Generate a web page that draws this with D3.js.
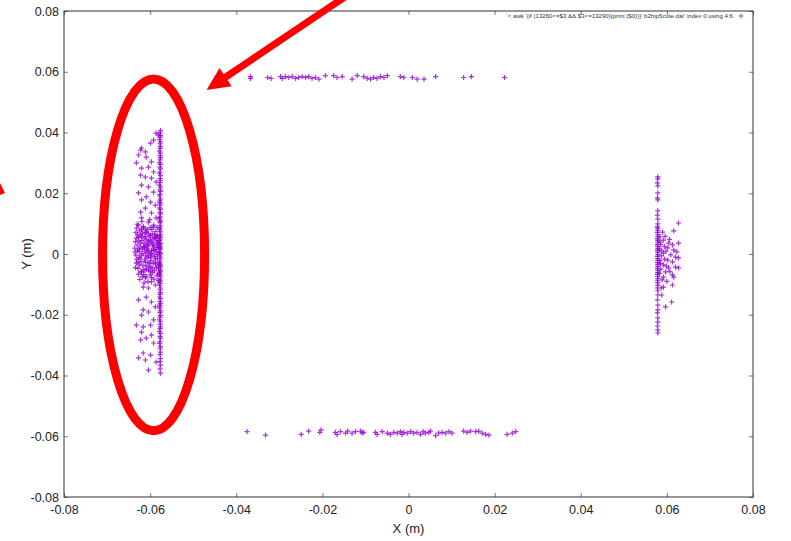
<!DOCTYPE html>
<html>
<head>
<meta charset="utf-8">
<script src="https://cdn.jsdelivr.net/npm/d3@7"></script>
<style>
  html, body { margin: 0; padding: 0; background: #fff; }
  svg { display: block; }
  text { font-family: "Liberation Sans", Arial, Helvetica, sans-serif; }
</style>
</head>
<body>
<svg id="chart" width="791" height="541"></svg>
<script>
// Axis ticks
const xTicks = [-0.08, -0.06, -0.04, -0.02, 0, 0.02, 0.04, 0.06, 0.08];
const xTickLabels = ["-0.08", "-0.06", "-0.04", "-0.02", "0", "0.02", "0.04", "0.06", "0.08"];
const yTicks = [-0.08, -0.06, -0.04, -0.02, 0, 0.02, 0.04, 0.06, 0.08];
const yTickLabels = ["-0.08", "-0.06", "-0.04", "-0.02", "0", "0.02", "0.04", "0.06", "0.08"];

const xTitle = "X (m)";
const yTitle = "Y (m)";
const seriesTitle = "'< awk '{if (13260<=$3 && $3<=13290){print ($0)}}' b2hip5cute.dat' index 0 using 4:6";

// Hits along the left plate (x ≈ -0.0577)
const leftLine = [
  [-0.0576, 0.0406], [-0.0577, 0.0399], [-0.0576, 0.0390], [-0.0577, 0.0385], [-0.0578, 0.0377],
  [-0.0576, 0.0369], [-0.0577, 0.0363], [-0.0576, 0.0354], [-0.0577, 0.0348], [-0.0578, 0.0339],
  [-0.0576, 0.0332], [-0.0577, 0.0324], [-0.0576, 0.0317], [-0.0577, 0.0310], [-0.0578, 0.0301],
  [-0.0576, 0.0295], [-0.0577, 0.0286], [-0.0576, 0.0280], [-0.0577, 0.0270], [-0.0578, 0.0265],
  [-0.0576, 0.0258], [-0.0577, 0.0248], [-0.0576, 0.0242], [-0.0577, 0.0235], [-0.0578, 0.0227],
  [-0.0576, 0.0220], [-0.0577, 0.0211], [-0.0576, 0.0206], [-0.0577, 0.0196], [-0.0578, 0.0191],
  [-0.0576, 0.0181], [-0.0577, 0.0177], [-0.0576, 0.0167], [-0.0577, 0.0161], [-0.0578, 0.0152],
  [-0.0576, 0.0147], [-0.0577, 0.0137], [-0.0576, 0.0132], [-0.0577, 0.0122], [-0.0578, 0.0118],
  [-0.0576, 0.0108], [-0.0577, 0.0103], [-0.0576, 0.0093], [-0.0577, 0.0088], [-0.0578, 0.0079],
  [-0.0576, 0.0073], [-0.0577, 0.0064], [-0.0576, 0.0059], [-0.0577, 0.0049], [-0.0578, 0.0044],
  [-0.0576, 0.0035], [-0.0577, 0.0029], [-0.0576, 0.0020], [-0.0577, 0.0015], [-0.0578, 0.0006],
  [-0.0576, 0.0001], [-0.0577, -0.0009], [-0.0576, -0.0014], [-0.0577, -0.0023], [-0.0578, -0.0029],
  [-0.0576, -0.0038], [-0.0577, -0.0043], [-0.0576, -0.0053], [-0.0577, -0.0058], [-0.0578, -0.0067],
  [-0.0576, -0.0073], [-0.0577, -0.0082], [-0.0576, -0.0088], [-0.0577, -0.0097], [-0.0578, -0.0103],
  [-0.0576, -0.0112], [-0.0577, -0.0118], [-0.0576, -0.0127], [-0.0577, -0.0133], [-0.0578, -0.0142],
  [-0.0576, -0.0148], [-0.0577, -0.0157], [-0.0576, -0.0163], [-0.0577, -0.0172], [-0.0578, -0.0178],
  [-0.0576, -0.0187], [-0.0577, -0.0193], [-0.0576, -0.0202], [-0.0577, -0.0208], [-0.0578, -0.0217],
  [-0.0576, -0.0223], [-0.0577, -0.0232], [-0.0576, -0.0240], [-0.0577, -0.0246], [-0.0578, -0.0255],
  [-0.0576, -0.0261], [-0.0577, -0.0271], [-0.0576, -0.0277], [-0.0577, -0.0288], [-0.0578, -0.0294],
  [-0.0576, -0.0305], [-0.0577, -0.0312], [-0.0576, -0.0323], [-0.0577, -0.0331], [-0.0576, -0.0344],
  [-0.0577, -0.0354], [-0.0576, -0.0366], [-0.0577, -0.0378], [-0.0576, -0.0392],
  [-0.0578, 0.0083], [-0.0578, 0.0054], [-0.0578, 0.0024], [-0.0578, -0.0004], [-0.0578, -0.0034],
  [-0.0578, -0.0062], [-0.0578, 0.0112], [-0.0578, -0.0092], [-0.0578, 0.0171], [-0.0578, -0.0168]
];

// Scattered hits beside the left plate
const leftSpread = [
  [-0.0586, 0.0398], [-0.0581, 0.0392], [-0.0592, 0.0375], [-0.0599, 0.0365], [-0.0620, 0.0349],
  [-0.0622, 0.0342], [-0.0611, 0.0336], [-0.0627, 0.0326], [-0.0609, 0.0319], [-0.0632, 0.0300],
  [-0.0597, 0.0303], [-0.0620, 0.0283], [-0.0604, 0.0286], [-0.0592, 0.0270], [-0.0622, 0.0260],
  [-0.0611, 0.0253], [-0.0597, 0.0250], [-0.0586, 0.0237], [-0.0620, 0.0227], [-0.0604, 0.0221],
  [-0.0627, 0.0201], [-0.0592, 0.0204], [-0.0609, 0.0188], [-0.0620, 0.0178], [-0.0599, 0.0171],
  [-0.0588, 0.0161], [-0.0611, 0.0151], [-0.0622, 0.0138], [-0.0597, 0.0135], [-0.0620, 0.0119],
  [-0.0586, 0.0119], [-0.0604, 0.0105], [-0.0627, 0.0095], [-0.0616, 0.0086], [-0.0592, 0.0089],
  [-0.0609, 0.0072], [-0.0622, 0.0063], [-0.0599, 0.0056], [-0.0588, 0.0053],
  [-0.0620, -0.0059], [-0.0604, -0.0053], [-0.0611, -0.0079], [-0.0597, -0.0092], [-0.0616, -0.0109],
  [-0.0604, -0.0112], [-0.0627, -0.0151], [-0.0609, -0.0142], [-0.0597, -0.0158], [-0.0616, -0.0184],
  [-0.0604, -0.0191], [-0.0620, -0.0201], [-0.0588, -0.0174], [-0.0632, -0.0234], [-0.0616, -0.0240],
  [-0.0599, -0.0234], [-0.0592, -0.0217], [-0.0620, -0.0257], [-0.0597, -0.0267], [-0.0622, -0.0283],
  [-0.0609, -0.0277], [-0.0592, -0.0293], [-0.0616, -0.0326], [-0.0627, -0.0342], [-0.0599, -0.0333],
  [-0.0611, -0.0349], [-0.0586, -0.0356], [-0.0604, -0.0382]
];

// Dense core of the left cluster around y = 0
const leftCore = [
  [-0.0634, 0.0041], [-0.0629, 0.0012], [-0.0631, -0.0018], [-0.0627, 0.0055], [-0.0625, -0.0036],
  [-0.0622, 0.0023], [-0.0620, -0.0004], [-0.0618, 0.0068], [-0.0616, -0.0051], [-0.0614, 0.0035],
  [-0.0612, 0.0009], [-0.0611, -0.0027], [-0.0609, 0.0049], [-0.0607, -0.0013], [-0.0605, 0.0027],
  [-0.0603, -0.0042], [-0.0601, 0.0061], [-0.0600, 0.0003], [-0.0598, -0.0022], [-0.0596, 0.0038],
  [-0.0594, -0.0061], [-0.0592, 0.0015], [-0.0590, -0.0008], [-0.0589, 0.0052], [-0.0587, -0.0033],
  [-0.0585, 0.0021], [-0.0583, -0.0015], [-0.0582, 0.0044], [-0.0580, -0.0048], [-0.0579, 0.0006],
  [-0.0633, -0.0004], [-0.0630, 0.0029], [-0.0628, -0.0047], [-0.0626, 0.0017], [-0.0624, 0.0076],
  [-0.0621, -0.0025], [-0.0619, 0.0044], [-0.0617, 0.0001], [-0.0615, -0.0068], [-0.0613, 0.0021],
  [-0.0610, -0.0039], [-0.0608, 0.0013], [-0.0606, 0.0079], [-0.0604, -0.0007], [-0.0602, 0.0033],
  [-0.0599, -0.0057], [-0.0597, 0.0011], [-0.0595, 0.0066], [-0.0593, -0.0031], [-0.0591, 0.0029],
  [-0.0588, -0.0016], [-0.0586, 0.0057], [-0.0584, -0.0071], [-0.0581, 0.0024], [-0.0579, -0.0029],
  [-0.0636, 0.0019], [-0.0632, -0.0030], [-0.0629, 0.0064], [-0.0626, -0.0011], [-0.0623, 0.0036],
  [-0.0621, -0.0059], [-0.0618, 0.0016], [-0.0616, 0.0090], [-0.0613, -0.0019], [-0.0611, 0.0058],
  [-0.0609, -0.0074], [-0.0607, 0.0005], [-0.0605, -0.0028], [-0.0603, 0.0046], [-0.0600, 0.0087],
  [-0.0598, -0.0043], [-0.0596, 0.0002], [-0.0594, 0.0031], [-0.0591, -0.0083], [-0.0589, 0.0012],
  [-0.0587, 0.0074], [-0.0584, -0.0002], [-0.0582, 0.0034], [-0.0580, -0.0064], [-0.0578, 0.0016],
  [-0.0630, 0.0098], [-0.0624, -0.0084], [-0.0619, 0.0107], [-0.0614, -0.0095], [-0.0610, 0.0082],
  [-0.0605, -0.0091], [-0.0601, 0.0113], [-0.0597, -0.0078], [-0.0592, 0.0095], [-0.0588, -0.0102],
  [-0.0584, 0.0088], [-0.0581, -0.0087], [-0.0627, -0.0066], [-0.0620, 0.0081], [-0.0612, -0.0056],
  [-0.0606, 0.0040], [-0.0599, -0.0012], [-0.0593, 0.0049], [-0.0586, -0.0044], [-0.0633, 0.0071],
  [-0.0635, 0.0006], [-0.0632, 0.0052], [-0.0628, -0.0026], [-0.0625, 0.0008], [-0.0623, -0.0014],
  [-0.0620, 0.0057], [-0.0617, -0.0037], [-0.0615, 0.0024], [-0.0612, 0.0071], [-0.0610, -0.0006],
  [-0.0608, -0.0049], [-0.0606, 0.0019], [-0.0603, 0.0010], [-0.0601, -0.0032], [-0.0599, 0.0043],
  [-0.0597, -0.0003], [-0.0595, -0.0049], [-0.0593, 0.0023], [-0.0590, 0.0063], [-0.0588, -0.0027],
  [-0.0586, 0.0007], [-0.0583, 0.0061], [-0.0581, -0.0039], [-0.0579, 0.0036], [-0.0634, -0.0045],
  [-0.0631, 0.0085], [-0.0626, 0.0043], [-0.0618, -0.0075], [-0.0614, 0.0052], [-0.0609, 0.0030],
  [-0.0604, 0.0066], [-0.0600, -0.0068], [-0.0596, 0.0081], [-0.0590, -0.0055], [-0.0585, 0.0039]
];

// Hits along the right plate (x ≈ 0.0579)
const rightLine = [
  [0.0579, 0.0254], [0.0579, 0.0247], [0.0578, 0.0234], [0.0579, 0.0224], [0.0579, 0.0201],
  [0.0578, 0.0185], [0.0579, 0.0178], [0.0579, 0.0142], [0.0578, 0.0128], [0.0579, 0.0115],
  [0.0579, 0.0099], [0.0578, 0.0089], [0.0579, 0.0085], [0.0579, 0.0078], [0.0578, 0.0071],
  [0.0579, 0.0064], [0.0579, 0.0057], [0.0578, 0.0050], [0.0579, 0.0044], [0.0579, 0.0037],
  [0.0578, 0.0031], [0.0579, 0.0024], [0.0579, 0.0018], [0.0578, 0.0011], [0.0579, 0.0005],
  [0.0579, -0.0002], [0.0578, -0.0008], [0.0579, -0.0015], [0.0579, -0.0021], [0.0578, -0.0028],
  [0.0579, -0.0034], [0.0579, -0.0041], [0.0578, -0.0047], [0.0579, -0.0054], [0.0579, -0.0061],
  [0.0578, -0.0067], [0.0579, -0.0074], [0.0579, -0.0081], [0.0578, -0.0088], [0.0579, -0.0095],
  [0.0579, -0.0103], [0.0578, -0.0112], [0.0579, -0.0121], [0.0579, -0.0135], [0.0578, -0.0151],
  [0.0579, -0.0168], [0.0579, -0.0184], [0.0578, -0.0194], [0.0579, -0.0210], [0.0579, -0.0224],
  [0.0578, -0.0237], [0.0579, -0.0250], [0.0579, -0.0260]
];

// Scattered hits beside the right plate
const rightSpread = [
  [0.0627, 0.0102], [0.0616, 0.0076], [0.0590, 0.0072], [0.0592, 0.0046], [0.0604, 0.0036],
  [0.0613, 0.0030], [0.0627, 0.0036], [0.0602, 0.0020], [0.0616, 0.0013], [0.0623, 0.0007],
  [0.0592, 0.0003], [0.0609, -0.0003], [0.0620, -0.0010], [0.0602, -0.0020], [0.0627, -0.0013],
  [0.0613, -0.0026], [0.0592, -0.0036], [0.0620, -0.0043], [0.0604, -0.0046], [0.0597, -0.0059],
  [0.0613, -0.0069], [0.0627, -0.0046], [0.0592, -0.0076], [0.0616, -0.0076], [0.0592, -0.0109],
  [0.0613, -0.0102], [0.0588, -0.0135], [0.0611, -0.0158], [0.0597, -0.0174],
  [0.0584, 0.0056], [0.0586, 0.0031], [0.0583, 0.0015], [0.0587, -0.0006], [0.0584, -0.0022],
  [0.0586, -0.0050], [0.0583, -0.0064], [0.0588, 0.0010], [0.0585, -0.0031], [0.0589, -0.0085],
  [0.0596, 0.0058], [0.0598, 0.0009], [0.0595, -0.0017], [0.0599, -0.0040], [0.0606, 0.0048],
  [0.0607, -0.0058], [0.0600, -0.0090], [0.0584, 0.0040], [0.0587, -0.0112], [0.0595, 0.0024]
];

// Hits on the top plate (y ≈ 0.058)
const topRow = [
  [-0.0367, 0.0584], [-0.0367, 0.0578], [-0.0327, 0.0581], [-0.0319, 0.0578], [-0.0297, 0.0584],
  [-0.0293, 0.0578], [-0.0286, 0.0584], [-0.0278, 0.0581], [-0.0270, 0.0584], [-0.0262, 0.0578],
  [-0.0255, 0.0581], [-0.0247, 0.0584], [-0.0239, 0.0581], [-0.0232, 0.0584], [-0.0224, 0.0578],
  [-0.0216, 0.0581], [-0.0208, 0.0576], [-0.0193, 0.0587], [-0.0174, 0.0587], [-0.0166, 0.0581],
  [-0.0154, 0.0584], [-0.0131, 0.0576], [-0.0119, 0.0587], [-0.0104, 0.0584], [-0.0096, 0.0578],
  [-0.0088, 0.0576], [-0.0081, 0.0581], [-0.0073, 0.0578], [-0.0065, 0.0584], [-0.0057, 0.0581],
  [-0.0049, 0.0587], [-0.0019, 0.0584], [-0.0011, 0.0581], [0.0009, 0.0581], [0.0020, 0.0576],
  [0.0036, 0.0576], [0.0063, 0.0584], [0.0128, 0.0581], [0.0146, 0.0584], [0.0223, 0.0581]
];

// Hits on the bottom plate (y ≈ -0.059)
const bottomRow = [
  [-0.0375, -0.0585], [-0.0332, -0.0596], [-0.0249, -0.0594], [-0.0232, -0.0583], [-0.0206, -0.0587],
  [-0.0203, -0.0579], [-0.0170, -0.0587], [-0.0166, -0.0594], [-0.0158, -0.0585], [-0.0146, -0.0590],
  [-0.0141, -0.0583], [-0.0131, -0.0590], [-0.0123, -0.0585], [-0.0111, -0.0583], [-0.0108, -0.0590],
  [-0.0104, -0.0587], [-0.0077, -0.0587], [-0.0073, -0.0594], [-0.0061, -0.0585], [-0.0049, -0.0590],
  [-0.0042, -0.0594], [-0.0034, -0.0587], [-0.0026, -0.0590], [-0.0019, -0.0585], [-0.0015, -0.0594],
  [-0.0011, -0.0587], [-0.0003, -0.0590], [0.0005, -0.0585], [0.0012, -0.0590], [0.0020, -0.0587],
  [0.0028, -0.0594], [0.0034, -0.0585], [0.0039, -0.0590], [0.0047, -0.0587], [0.0051, -0.0583],
  [0.0063, -0.0598], [0.0070, -0.0590], [0.0078, -0.0587], [0.0086, -0.0590], [0.0094, -0.0585],
  [0.0101, -0.0590], [0.0128, -0.0583], [0.0136, -0.0587], [0.0144, -0.0583], [0.0156, -0.0585],
  [0.0163, -0.0583], [0.0171, -0.0590], [0.0179, -0.0594], [0.0187, -0.0596], [0.0229, -0.0594],
  [0.0241, -0.0590], [0.0249, -0.0585]
];

// Red highlight annotations, in data units
const ringCenter = [-0.0592, -0.0003];
const ringRadii = [0.01185, 0.0579];
const arrowFrom = [-0.0146, 0.0848];
const arrowTip = [-0.0469, 0.0540];

const W = 791, H = 541;
const M = { left: 64, right: 753, top: 11, bottom: 497 };
const POINT_COLOR = "#9400d3";

const svg = d3.select("#chart");
svg.append("rect").attr("width", W).attr("height", H).attr("fill", "#fff");

const x = d3.scaleLinear().domain([-0.08, 0.08]).range([M.left, M.right]);
const y = d3.scaleLinear().domain([-0.08, 0.08]).range([M.bottom, M.top]);

const fmtX = d => xTickLabels[xTicks.indexOf(d)];
const fmtY = d => yTickLabels[yTicks.indexOf(d)];

// Axes with inward ticks, mirrored on top and right
const gx = svg.append("g").attr("transform", `translate(0,${M.bottom})`)
  .call(d3.axisBottom(x).tickValues(xTicks).tickFormat(fmtX).tickSize(-4).tickPadding(8));
const gxt = svg.append("g").attr("transform", `translate(0,${M.top})`)
  .call(d3.axisTop(x).tickValues(xTicks).tickFormat("").tickSize(-4));
const gy = svg.append("g").attr("transform", `translate(${M.left},0)`)
  .call(d3.axisLeft(y).tickValues(yTicks).tickFormat(fmtY).tickSize(-4).tickPadding(5));
const gyr = svg.append("g").attr("transform", `translate(${M.right},0)`)
  .call(d3.axisRight(y).tickValues(yTicks).tickFormat("").tickSize(-4));

[gx, gxt, gy, gyr].forEach(g => {
  g.select(".domain").remove();
  g.selectAll(".tick line").attr("stroke", "#777").attr("stroke-width", 1);
  g.selectAll(".tick text").attr("fill", "#222").style("font-size", "12.5px");
});

// Plot border
svg.append("rect")
  .attr("x", M.left).attr("y", M.top)
  .attr("width", M.right - M.left).attr("height", M.bottom - M.top)
  .attr("fill", "none").attr("stroke", "#333").attr("stroke-width", 1);

// Axis titles
svg.append("text").attr("x", x(0)).attr("y", 533)
  .attr("text-anchor", "middle").attr("fill", "#222").style("font-size", "13px").text(xTitle);
svg.append("text").attr("transform", `translate(31,${y(0)}) rotate(-90)`)
  .attr("text-anchor", "middle").attr("fill", "#222").style("font-size", "13px").text(yTitle);

// Scatter points drawn as "+"
const allPoints = [].concat(leftLine, leftSpread, leftCore, rightLine, rightSpread, topRow, bottomRow);
const plus = "M-2.6,0H2.6M0,-2.6V2.6";
svg.append("g").selectAll("path").data(allPoints).join("path")
  .attr("transform", d => `translate(${x(d[0])},${y(d[1])})`)
  .attr("d", plus)
  .attr("fill", "none")
  .attr("stroke", POINT_COLOR)
  .attr("stroke-width", 1.2)
  .attr("stroke-opacity", 0.8);

// Key
svg.append("text").attr("x", 733).attr("y", 18)
  .attr("text-anchor", "end").attr("fill", "#333").style("font-size", "6.1px").text(seriesTitle);
svg.append("path").attr("transform", "translate(741,16)").attr("d", plus)
  .attr("stroke", POINT_COLOR).attr("stroke-width", 1).attr("stroke-opacity", 0.7);

// Red highlight: ring around the left cluster and a pointing arrow
const RED = "#ff0000";
svg.append("ellipse")
  .attr("cx", x(ringCenter[0])).attr("cy", y(ringCenter[1]))
  .attr("rx", x(ringCenter[0] + ringRadii[0]) - x(ringCenter[0]))
  .attr("ry", y(ringCenter[1]) - y(ringCenter[1] + ringRadii[1]))
  .attr("fill", "none").attr("stroke", RED).attr("stroke-width", 9);

const p0 = [x(arrowFrom[0]), y(arrowFrom[1])];
const p1 = [x(arrowTip[0]), y(arrowTip[1])];
const dx = p1[0] - p0[0], dy = p1[1] - p0[1];
const len = Math.hypot(dx, dy);
const ux = dx / len, uy = dy / len;
const headLen = 23, headHalf = 11;
const base = [p1[0] - ux * headLen, p1[1] - uy * headLen];
svg.append("line")
  .attr("x1", p0[0]).attr("y1", p0[1]).attr("x2", base[0] + ux * 2).attr("y2", base[1] + uy * 2)
  .attr("stroke", RED).attr("stroke-width", 7);
svg.append("path")
  .attr("d", `M${p1[0]},${p1[1]}L${base[0] - uy * headHalf},${base[1] + ux * headHalf}L${base[0] + uy * headHalf},${base[1] - ux * headHalf}Z`)
  .attr("fill", RED);

// Tip of a second arrow entering from the left edge
svg.append("path").attr("d", "M0,183L5,193L0,195Z").attr("fill", RED);
</script>
</body>
</html>
